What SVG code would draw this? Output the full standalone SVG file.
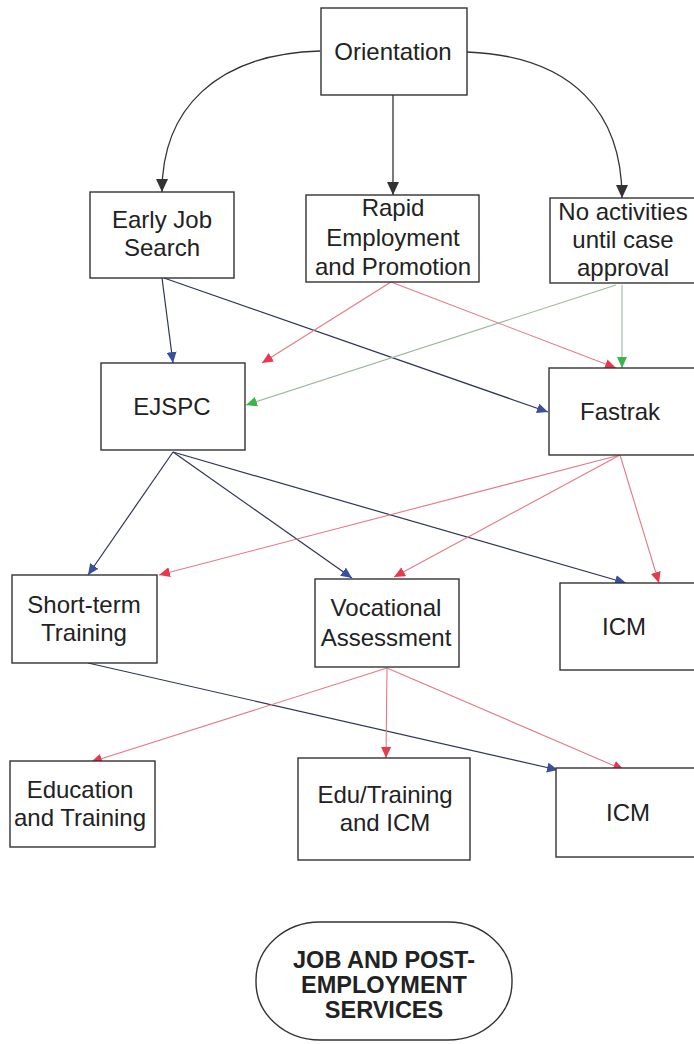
<svg xmlns="http://www.w3.org/2000/svg" width="694" height="1044" viewBox="0 0 694 1044">
<style>
.box{fill:#fff;stroke:#333;stroke-width:1.4}
.t{font-family:"Liberation Sans",Arial,sans-serif;font-size:24px;fill:#222;text-anchor:middle}
.tb{font-family:"Liberation Sans",Arial,sans-serif;font-size:23.5px;font-weight:bold;fill:#222;text-anchor:middle}
.k{fill:none;stroke:#333;stroke-width:1.3}
.b{fill:none;stroke:#2e3652;stroke-width:1.2}
.r{fill:none;stroke:#e27a84;stroke-width:1.1}
.g{fill:none;stroke:#9cb89c;stroke-width:1.1}
</style>
<defs>
<marker id="ak" markerUnits="userSpaceOnUse" markerWidth="14" markerHeight="12" refX="13" refY="6" orient="auto"><path d="M0,0 L13,6 L0,12 Z" fill="#333"/></marker>
<marker id="ab" markerUnits="userSpaceOnUse" markerWidth="12" markerHeight="10" refX="11" refY="5" orient="auto"><path d="M0,0 L11,5 L0,10 Z" fill="#3a4f9e"/></marker>
<marker id="ar" markerUnits="userSpaceOnUse" markerWidth="12" markerHeight="10" refX="11" refY="5" orient="auto"><path d="M0,0 L11,5 L0,10 Z" fill="#e8384e"/></marker>
<marker id="ag" markerUnits="userSpaceOnUse" markerWidth="12" markerHeight="10" refX="11" refY="5" orient="auto"><path d="M0,0 L11,5 L0,10 Z" fill="#3cb54a"/></marker>
</defs>
<rect width="694" height="1044" fill="#fff"/>
<g id="connectors">
<path class="k" d="M320,51 C215,54 162,110 162,192" marker-end="url(#ak)"/>
<path class="k" d="M393,95 L393,195" marker-end="url(#ak)"/>
<path class="k" d="M467,52 C575,56 622,115 622,198" marker-end="url(#ak)"/>
<path class="b" d="M162,278 L173,363" marker-end="url(#ab)"/>
<path class="b" d="M164,278 L548,412" marker-end="url(#ab)"/>
<path class="b" d="M173,452 L88,575" marker-end="url(#ab)"/>
<path class="b" d="M173,452 L352,578" marker-end="url(#ab)"/>
<path class="b" d="M173,452 L626,583" marker-end="url(#ab)"/>
<path class="b" d="M88,663 L558,770" marker-end="url(#ab)"/>
<path class="r" d="M391,282 L262,363" marker-end="url(#ar)"/>
<path class="r" d="M391,282 L616,368" marker-end="url(#ar)"/>
<path class="r" d="M620,455 L159,575" marker-end="url(#ar)"/>
<path class="r" d="M620,455 L394,577" marker-end="url(#ar)"/>
<path class="r" d="M620,455 L659,583" marker-end="url(#ar)"/>
<path class="r" d="M387,668 L91,762" marker-end="url(#ar)"/>
<path class="r" d="M387,668 L386,758" marker-end="url(#ar)"/>
<path class="r" d="M387,668 L624,770" marker-end="url(#ar)"/>
<path class="g" d="M616,285 L246,405" marker-end="url(#ag)"/>
<path class="g" d="M622,285 L622,368" marker-end="url(#ag)"/>
</g>
<g id="orientation"><rect class="box" x="321" y="8" width="146" height="87"/><text class="t" x="393" y="60">Orientation</text></g>
<g id="early-job-search"><rect class="box" x="90" y="192" width="144" height="86"/><text class="t" x="162" y="228">Early Job</text><text class="t" x="162" y="256">Search</text></g>
<g id="rapid-employment"><rect class="box" x="306" y="195" width="173" height="87"/><text class="t" x="393" y="216">Rapid</text><text class="t" x="393" y="246">Employment</text><text class="t" x="393" y="275">and Promotion</text></g>
<g id="no-activities"><rect class="box" x="550" y="198" width="150" height="85"/><text class="t" x="623" y="220">No activities</text><text class="t" x="623" y="248">until case</text><text class="t" x="623" y="276">approval</text></g>
<g id="ejspc"><rect class="box" x="101" y="363" width="144" height="87"/><text class="t" x="172" y="415">EJSPC</text></g>
<g id="fastrak"><rect class="box" x="549" y="368" width="150" height="87"/><text class="t" x="620" y="420">Fastrak</text></g>
<g id="short-term-training"><rect class="box" x="12" y="575" width="145" height="88"/><text class="t" x="84" y="613">Short-term</text><text class="t" x="84" y="641">Training</text></g>
<g id="vocational-assessment"><rect class="box" x="315" y="579" width="144" height="88"/><text class="t" x="386" y="616">Vocational</text><text class="t" x="386" y="646">Assessment</text></g>
<g id="icm-1"><rect class="box" x="560" y="583" width="140" height="87"/><text class="t" x="624" y="635">ICM</text></g>
<g id="education-training"><rect class="box" x="10" y="761" width="145" height="86"/><text class="t" x="80" y="798">Education</text><text class="t" x="80" y="826">and Training</text></g>
<g id="edu-training-icm"><rect class="box" x="298" y="758" width="172" height="102"/><text class="t" x="385" y="803">Edu/Training</text><text class="t" x="385" y="831">and ICM</text></g>
<g id="icm-2"><rect class="box" x="556" y="768" width="144" height="89"/><text class="t" x="628" y="821">ICM</text></g>
<g id="job-post-employment"><rect class="box" x="256" y="922" width="256" height="118" rx="64" ry="58"/><text class="tb" x="384" y="968">JOB AND POST-</text><text class="tb" x="384" y="993">EMPLOYMENT</text><text class="tb" x="384" y="1018">SERVICES</text></g>
</svg>
